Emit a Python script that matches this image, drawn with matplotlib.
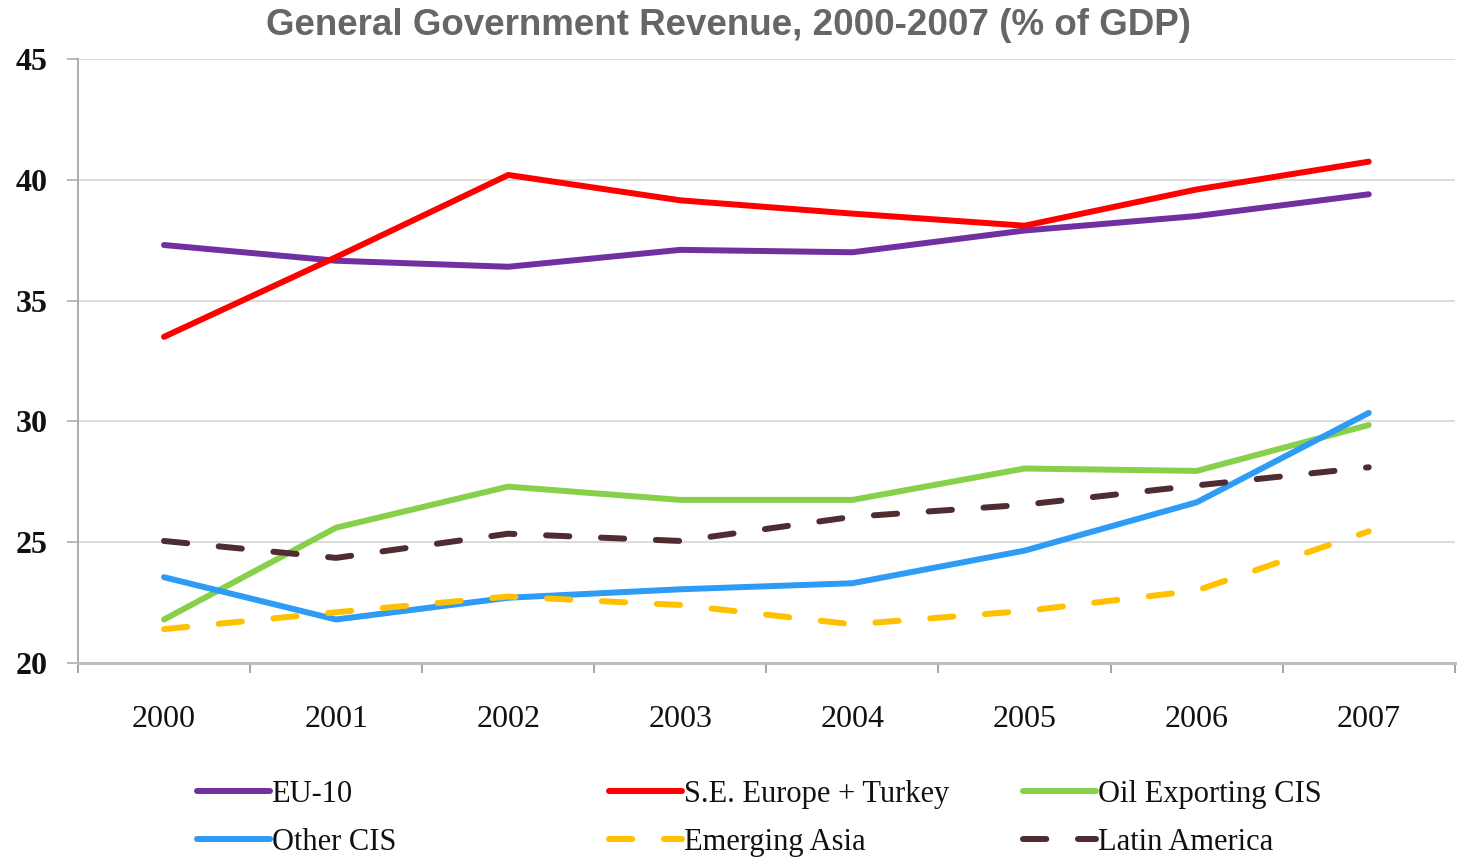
import numpy as np
from matplotlib import pyplot as plt

years = ["2000", "2001", "2002", "2003", "2004", "2005", "2006", "2007"]

eu10 = [37.3, 36.65, 36.4, 37.1, 37.0, 37.9, 38.5, 39.4]
se_europe = [33.5, 36.8, 40.2, 39.15, 38.6, 38.1, 39.6, 40.75]
oil_cis = [21.8, 25.6, 27.3, 26.75, 26.75, 28.05, 27.95, 29.85]
other_cis = [23.55, 21.8, 22.7, 23.05, 23.3, 24.65, 26.65, 30.35]
emerging_asia = [21.4, 22.1, 22.75, 22.4, 21.6, 22.15, 23.0, 25.45]
latin_america = [25.05, 24.35, 25.35, 25.05, 26.05, 26.55, 27.35, 28.1]

series = [
    ("EU-10", eu10, "#7030a0", None),
    ("S.E. Europe + Turkey", se_europe, "#ff0000", None),
    ("Oil Exporting CIS", oil_cis, "#86d04a", None),
    ("Other CIS", other_cis, "#2e9bf5", None),
    ("Emerging Asia", emerging_asia, "#ffc000", (3.9, 5.3)),
    ("Latin America", latin_america, "#4e2c31", (3.9, 5.3)),
]

serif = ["Liberation Serif", "DejaVu Serif"]

fig = plt.figure(figsize=(14.57, 8.6), dpi=100)
ax = fig.add_axes([0.0535, 0.2291, 0.945, 0.7023])

x = np.arange(len(years))
handles = {}
for name, vals, col, dash in series:
    if dash is None:
        ln, = ax.plot(x, vals, color=col, lw=4.3, solid_capstyle="round",
                      solid_joinstyle="round", label=name)
    else:
        ln, = ax.plot(x, vals, color=col, lw=4.3, dashes=dash,
                      dash_capstyle="round", label=name)
    handles[name] = ln

ax.set_xlim(-0.5, 7.5)
ax.set_ylim(20, 45)
ax.set_yticks([20, 25, 30, 35, 40, 45])
ax.grid(axis="y", color="#d9d9d9", lw=1.3)
ax.set_axisbelow(True)

for s in ["top", "right"]:
    ax.spines[s].set_visible(False)
ax.spines["left"].set_color("#a6a6a6")
ax.spines["left"].set_linewidth(1.3)
ax.spines["bottom"].set_color("#bfbfbf")
ax.spines["bottom"].set_linewidth(2.2)

ax.set_xticks(x)
ax.set_xticklabels(years, fontfamily=serif, fontsize=23, color="#111111")
ax.set_xticks(np.arange(-0.5, 8, 1), minor=True)
ax.tick_params(axis="x", which="major", length=0, pad=30)
ax.tick_params(axis="x", which="minor", length=7, color="#8c8c8c", width=1.1)
ax.tick_params(axis="y", length=8, color="#a6a6a6", width=1.1, pad=14)
for lbl in ax.get_yticklabels():
    lbl.set_fontfamily(serif)
    lbl.set_fontsize(23)
    lbl.set_fontweight("bold")
    lbl.set_color("#111111")

fig.text(0.5, 0.970, "General Government Revenue, 2000-2007 (% of GDP)",
         ha="center", va="center", fontsize=26.5, fontweight="bold",
         color="#666666", family=["Liberation Sans", "DejaVu Sans"])

# legend: three columns placed by hand
columns = [["EU-10", "Other CIS"],
           ["S.E. Europe + Turkey", "Emerging Asia"],
           ["Oil Exporting CIS", "Latin America"]]
col_x = [0.135, 0.418, 0.702]
for cx, names in zip(col_x, columns):
    leg = fig.legend([handles[n] for n in names], names, loc="upper left",
                     bbox_to_anchor=(cx, 0.093), frameon=False,
                     handlelength=2.4, handletextpad=0.05, labelspacing=0.62,
                     borderaxespad=0, borderpad=0,
                     prop={"family": serif, "size": 22})
    for t in leg.get_texts():
        t.set_color("#111111")

fig.savefig("out.png", dpi=100)
